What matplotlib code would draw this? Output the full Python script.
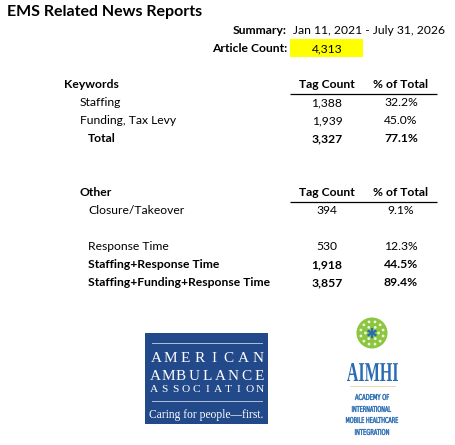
import matplotlib
matplotlib.use("Agg")
import math
import matplotlib.pyplot as plt
from matplotlib.patches import Rectangle, Circle, PathPatch
from matplotlib.textpath import TextPath
from matplotlib.font_manager import FontProperties
from matplotlib.transforms import Affine2D

# ---------------- data ----------------
title = "EMS Related News Reports"
summary_range = "Jan 11, 2021 - July 31, 2026"
article_count = 4313

col_headers = ["Tag Count", "% of Total"]

keyword_labels = ["Staffing", "Funding, Tax Levy", "Total"]
keyword_counts = [1388, 1939, 3327]
keyword_pcts = [32.2, 45.0, 77.1]
keyword_bold = [False, False, True]

other_labels = ["Closure/Takeover", "Response Time", "Staffing+Response Time",
                "Staffing+Funding+Response Time"]
other_counts = [394, 530, 1918, 3857]
other_pcts = [9.1, 12.3, 44.5, 89.4]
other_bold = [False, False, True, True]

# ---------------- figure ----------------
W, H = 456, 445
fig = plt.figure(figsize=(W / 100, H / 100), dpi=100)
ax = fig.add_axes([0, 0, 1, 1])
ax.set_xlim(0, W)
ax.set_ylim(H, 0)
ax.axis("off")

FONT = "Lato"
FS = 8.7


def txt(x, y, s, bold=False, ha="left", size=FS, **kw):
    ax.text(x, y, s, ha=ha, va="center", fontsize=size, family=FONT,
            fontweight="bold" if bold else "normal", color="black", **kw)


def fitted_text(s, x0, y0, x1, y1, color, family="DejaVu Sans", weight="normal",
                lw=0):
    """Draw text stretched to fill box (x0,y0)-(x1,y1) in data (pixel) coords."""
    fp = FontProperties(family=family, weight=weight)
    tp = TextPath((0, 0), s, size=10, prop=fp)
    bb = tp.get_extents()
    sx = (x1 - x0) / bb.width
    sy = (y1 - y0) / bb.height
    tr = Affine2D().translate(-bb.x0, -bb.y0).scale(sx, -sy).translate(x0, y1)
    path = tr.transform_path(tp)
    ax.add_patch(PathPatch(path, facecolor=color, edgecolor=color, lw=lw))


# title
ax.text(7, 12, title, ha="left", va="center", fontsize=11.5, family=FONT,
        fontweight="bold")

# summary
txt(287, 31, "Summary:", bold=True, ha="right")
txt(293, 31, summary_range)
txt(287, 49, "Article Count:", bold=True, ha="right")
ax.add_patch(Rectangle((290, 39), 73, 18, facecolor="#ffff00", edgecolor="none"))
txt(327, 48.5, f"{article_count:,}", ha="center")

cx_count, cx_pct = 327, 401

# keywords table
txt(64, 85, "Keywords", bold=True)
txt(cx_count, 85, col_headers[0], bold=True, ha="center")
txt(cx_pct, 85, col_headers[1], bold=True, ha="center")
ax.plot([290, 437], [93.5, 93.5], color="black", lw=0.9, solid_capstyle="butt")
kw_y = [103, 121, 139]
kw_x = [80, 80, 88]
for lab, c, p, b, y, x in zip(keyword_labels, keyword_counts, keyword_pcts,
                              keyword_bold, kw_y, kw_x):
    txt(x, y, lab, bold=b)
    txt(cx_count, y, f"{c:,}", bold=b, ha="center")
    txt(cx_pct, y, f"{p:.1f}%", bold=b, ha="center")

# other table
txt(80, 193, "Other", bold=True)
txt(cx_count, 193, col_headers[0], bold=True, ha="center")
txt(cx_pct, 193, col_headers[1], bold=True, ha="center")
ax.plot([290, 437], [201.5, 201.5], color="black", lw=0.9, solid_capstyle="butt")
ot_y = [211, 247, 265, 283]
for lab, c, p, b, y in zip(other_labels, other_counts, other_pcts, other_bold, ot_y):
    txt(88, y, lab, bold=b)
    txt(cx_count, y, f"{c:,}", bold=b, ha="center")
    txt(cx_pct, y, f"{p:.1f}%", bold=b, ha="center")

# ---------------- AAA logo ----------------
navy = "#22498a"
ax.add_patch(Rectangle((145, 333), 123, 91, facecolor=navy, edgecolor="none"))
ax.plot([152, 262], [342.5, 342.5], color="#c9d3e6", lw=0.6)
ax.plot([152, 262], [400.5, 400.5], color="#c9d3e6", lw=0.6)


def spaced(s, x0, x1, y, size):
    n = len(s)
    step = (x1 - x0) / (n - 1)
    for i, ch in enumerate(s):
        ax.text(x0 + i * step, y, ch, ha="center", va="center", fontsize=size,
                family="Liberation Serif", color="white")


spaced("AMERICAN", 156, 258, 358, 11)
spaced("AMBULANCE", 155, 259, 376, 11)
spaced("ASSOCIATION", 154, 260, 390, 8.2)
ax.text(206.5, 415, "Caring for people\u2014first.", ha="center", va="center",
        fontsize=8.3, family="Liberation Serif", color="white")

# ---------------- AIMHI logo ----------------
green = "#8cc63f"
blue = "#2a6cb2"
ax.add_patch(Circle((372, 333), 15.5, facecolor=green, edgecolor="none"))
for r, n in [(6.5, 6), (11.5, 12)]:
    for k in range(n):
        a = 2 * math.pi * k / n + (math.pi / n if n == 12 else 0)
        ax.add_patch(Circle((372 + r * math.cos(a), 333 + r * math.sin(a)), 1.4,
                            facecolor="white", edgecolor="none", alpha=0.85))
for k in range(3):
    a = math.pi * k / 3 + math.pi / 2
    dx, dy = 4 * math.cos(a), 4 * math.sin(a)
    ax.plot([372 - dx, 372 + dx], [333 - dy, 333 + dy], color=blue, lw=1.6)

fitted_text("AIMHI", 347, 363, 398, 381, blue, family="Liberation Serif",
            weight="bold")
ax.plot([350, 395], [386, 386], color="#e0d9a0", lw=0.6)
fitted_text("ACADEMY OF", 355, 394, 389, 400, blue, lw=0.3)
fitted_text("INTERNATIONAL", 352, 406, 391, 412, blue, lw=0.3)
fitted_text("MOBILE HEALTHCARE", 346, 417, 398, 423, blue, lw=0.3)
fitted_text("INTEGRATION", 355, 429, 389, 435, blue, lw=0.3)

fig.savefig("out.png", dpi=100, facecolor="white")
